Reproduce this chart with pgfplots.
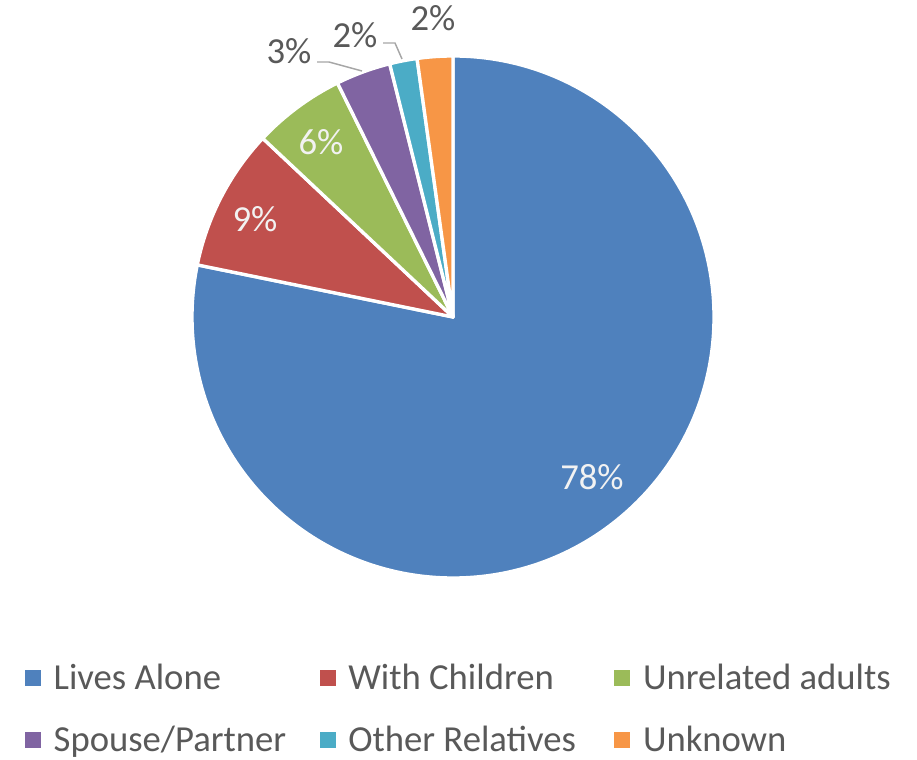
\documentclass[border=0pt]{standalone}
\usepackage{pgfplots}
\usepackage{pgfplotstable}
\pgfplotsset{compat=1.18}
\usepackage{fontspec}
\setmainfont{Carlito}
\definecolor{cLive}{HTML}{4F81BD}
\definecolor{cChild}{HTML}{C0504D}
\definecolor{cUnrel}{HTML}{9BBB59}
\definecolor{cSpouse}{HTML}{8064A2}
\definecolor{cOther}{HTML}{4BACC6}
\definecolor{cUnk}{HTML}{F79646}
\definecolor{txt}{HTML}{595959}
\definecolor{lead}{HTML}{A6A6A6}
\definecolor{lbl}{HTML}{F2F2F2}

% value = share in percent; lx, ly = label position (image pixels, y down)
\pgfplotstableread{
value col tc lx ly
78.2 cLive lbl 592 477
8.8 cChild lbl 255 219
5.7 cUnrel lbl 321 142
3.4 cSpouse txt 289 51
1.7 cOther txt 355 35
2.2 cUnk txt 433 18
}\piedata

\begin{document}
\fontsize{27.5pt}{33pt}\selectfont
\begin{tikzpicture}
\useasboundingbox (0,0) rectangle (687.75pt,570pt);
\begin{axis}[
  x=0.75pt, y=0.75pt,
  xmin=0, xmax=917, ymin=0, ymax=760,
  hide axis, clip=false,
  legend columns=3,
  legend cell align=left,
  legend image code/.code={\fill[#1, draw=none] (0pt,-4pt) rectangle (12pt,8pt);},
  legend style={draw=none, fill=none, inner sep=0pt, outer sep=0pt,
    at={(0.02726,0.1272)}, anchor=north west,
    column sep=9.5pt, row sep=20.5pt,
    font=\fontsize{27.5pt}{33pt}\selectfont, text=txt,
    nodes={inner sep=0pt, text height=20pt, text depth=6pt}},
]
\addlegendimage{fill=cLive}\addlegendentry{\makebox[190pt][l]{Lives Alone}}
\addlegendimage{fill=cChild}\addlegendentry{\makebox[190pt][l]{With Children}}
\addlegendimage{fill=cUnrel}\addlegendentry{\makebox[190pt][l]{Unrelated adults}}
\addlegendimage{fill=cSpouse}\addlegendentry{\makebox[190pt][l]{Spouse/Partner}}
\addlegendimage{fill=cOther}\addlegendentry{\makebox[190pt][l]{Other Relatives}}
\addlegendimage{fill=cUnk}\addlegendentry{\makebox[190pt][l]{Unknown}}

\def\angstart{90}
\pgfplotsforeachungrouped \i in {0,...,5}{
  \pgfplotstablegetelem{\i}{value}\of\piedata \let\val\pgfplotsretval
  \pgfplotstablegetelem{\i}{col}\of\piedata \let\col\pgfplotsretval
  \pgfmathsetmacro\angend{\angstart-3.6*\val}
  \edef\temp{\noexpand\fill[\col, draw=white, line width=2.5pt, line join=round]
    (axis cs:453,443) -- ++(\angstart:195.75pt)
    arc[start angle=\angstart, end angle=\angend, radius=195.75pt] -- cycle;}
  \temp
  \global\let\angstart\angend
}

\draw[lead, line width=1.1pt] (axis cs:317,698) -- (axis cs:329,698) -- (axis cs:362,689);
\draw[lead, line width=1.1pt] (axis cs:383,717) -- (axis cs:395,717) -- (axis cs:402,701);

\pgfplotsforeachungrouped \i in {0,...,5}{
  \pgfplotstablegetelem{\i}{value}\of\piedata \let\val\pgfplotsretval
  \pgfplotstablegetelem{\i}{tc}\of\piedata \let\tcol\pgfplotsretval
  \pgfplotstablegetelem{\i}{lx}\of\piedata \let\lx\pgfplotsretval
  \pgfplotstablegetelem{\i}{ly}\of\piedata \let\ly\pgfplotsretval
  \pgfmathtruncatemacro\pct{round(\val)}
  \pgfmathsetmacro\lyd{760-\ly}
  \edef\temp{\noexpand\node[text=\tcol, inner sep=0pt] at (axis cs:\lx,\lyd) {\pct\noexpand\%};}
  \temp
}
\end{axis}
\end{tikzpicture}
\end{document}
